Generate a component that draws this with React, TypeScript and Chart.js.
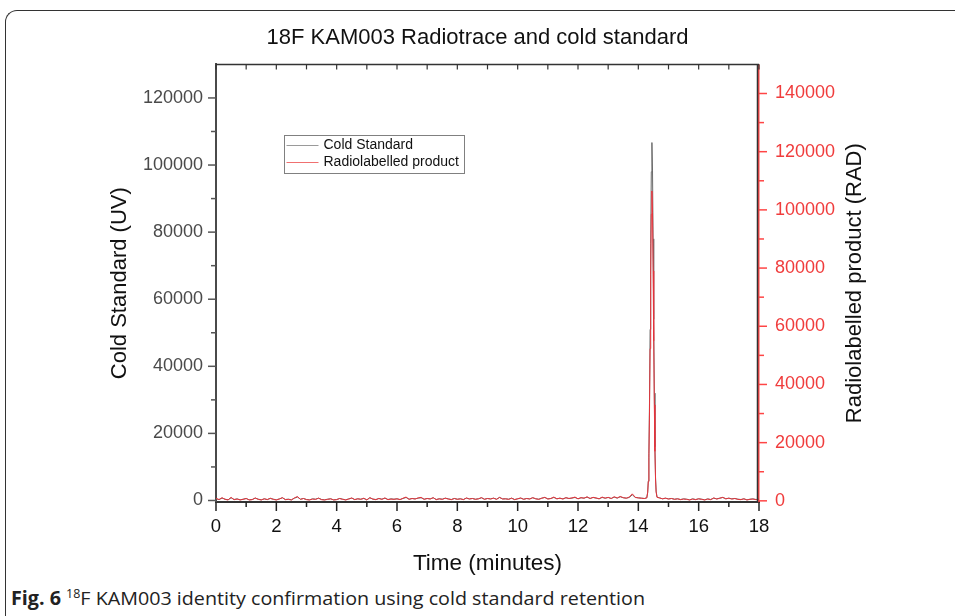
import React, { useEffect, useRef } from "react";
import { Chart, registerables } from "chart.js";

Chart.register(...registerables);

// Retention time (minutes)
const times = [
  0, 0.1, 0.2, 0.3, 0.4, 0.5, 0.6, 0.7, 0.8, 0.9,
  1, 1.1, 1.2, 1.3, 1.4, 1.5, 1.6, 1.7, 1.8, 1.9,
  2, 2.1, 2.2, 2.3, 2.4, 2.5, 2.6, 2.7, 2.8, 2.9,
  3, 3.1, 3.2, 3.3, 3.4, 3.5, 3.6, 3.7, 3.8, 3.9,
  4, 4.1, 4.2, 4.3, 4.4, 4.5, 4.6, 4.7, 4.8, 4.9,
  5, 5.1, 5.2, 5.3, 5.4, 5.5, 5.6, 5.7, 5.8, 5.9,
  6, 6.1, 6.2, 6.3, 6.4, 6.5, 6.6, 6.7, 6.8, 6.9,
  7, 7.1, 7.2, 7.3, 7.4, 7.5, 7.6, 7.7, 7.8, 7.9,
  8, 8.1, 8.2, 8.3, 8.4, 8.5, 8.6, 8.7, 8.8, 8.9,
  9, 9.1, 9.2, 9.3, 9.4, 9.5, 9.6, 9.7, 9.8, 9.9,
  10, 10.1, 10.2, 10.3, 10.4, 10.5, 10.6, 10.7, 10.8, 10.9,
  11, 11.1, 11.2, 11.3, 11.4, 11.5, 11.6, 11.7, 11.8, 11.9,
  12, 12.1, 12.2, 12.3, 12.4, 12.5, 12.6, 12.7, 12.8, 12.9,
  13, 13.1, 13.2, 13.3, 13.4, 13.5, 13.6, 13.7, 13.8, 13.9,
  14, 14.1, 14.2,
  14.28, 14.31, 14.33, 14.35, 14.37, 14.39, 14.41, 14.43, 14.45,
  14.47, 14.49, 14.51, 14.53, 14.55, 14.57, 14.59, 14.62,
  14.7, 14.8, 14.9,
  15, 15.1, 15.2, 15.3, 15.4, 15.5, 15.6, 15.7, 15.8, 15.9,
  16, 16.1, 16.2, 16.3, 16.4, 16.5, 16.6, 16.7, 16.8, 16.9,
  17, 17.1, 17.2, 17.3, 17.4, 17.5, 17.6, 17.7, 17.8, 17.9,
  18,
];

// Cold Standard (UV), left axis
const coldStandard = [
  500, 300, 700, 400, 200, 800, 300, 500, 200, 400,
  600, 200, 300, 700, 400, 200, 500, 300, 600, 400,
  200, 500, 800, 300, 400, 200, 700, 1000, 400, 600,
  300, 200, 500, 400, 700, 300, 200, 400, 500, 200,
  300, 600, 400, 200, 500, 700, 300, 500, 400, 600,
  200, 800, 400, 300, 600, 400, 700, 300, 500, 400,
  500, 300, 600, 900, 400, 600, 500, 700, 800, 400,
  600, 500, 800, 300, 500, 400, 700, 500, 300, 600,
  400, 500, 300, 700, 500, 600, 400, 500, 800, 400,
  600, 500, 700, 400, 900, 500, 500, 400, 700, 300,
  500, 700, 400, 600, 500, 800, 500, 400, 700, 900,
  500, 600, 900, 500, 700, 500, 800, 600, 700, 900,
  500, 800, 700, 1000, 600, 900, 700, 500, 900, 700,
  900, 600, 1000, 700, 1100, 800, 700, 900, 1700, 900,
  800, 700, 600,
  800, 2500, 5800, 14000, 29000, 51000, 76500, 98000, 106700,
  98500, 78000, 54000, 32000, 16000, 7000, 2800, 1000,
  800, 500, 700,
  500, 600, 400, 500, 300, 500, 400, 200, 500, 300,
  500, 400, 200, 500, 300, 700, 500, 700, 900, 500,
  700, 500, 600, 400, 300, 500, 200, 400, 500, 300,
  400,
];

// Radiolabelled product (RAD), right axis
const radiolabelled = [
  900, 400, 1100, 500, 300, 1200, 400, 600, 300, 500,
  800, 300, 400, 1000, 500, 300, 700, 400, 900, 500,
  300, 600, 1100, 400, 500, 300, 1000, 1500, 500, 800,
  400, 300, 600, 500, 900, 400, 300, 500, 700, 300,
  400, 800, 500, 300, 600, 1000, 400, 700, 500, 900,
  300, 1100, 600, 400, 800, 500, 1000, 400, 600, 500,
  700, 400, 900, 1300, 500, 800, 600, 1000, 1200, 500,
  800, 600, 1100, 400, 700, 500, 900, 600, 400, 800,
  500, 700, 400, 1000, 600, 800, 500, 700, 1100, 500,
  800, 600, 900, 500, 1200, 600, 700, 500, 900, 400,
  700, 1000, 500, 800, 600, 1100, 700, 500, 900, 1200,
  600, 800, 1300, 700, 900, 600, 1100, 800, 1000, 1300,
  700, 1100, 900, 1400, 800, 1200, 1000, 700, 1300, 900,
  1200, 800, 1400, 1000, 1500, 1100, 900, 1300, 2400, 1200,
  1000, 900, 800,
  1000, 2800, 6600, 15000, 30200, 52300, 77700, 98500, 106500,
  99000, 79000, 55000, 33000, 17000, 7500, 3000, 1200,
  1000, 700, 900,
  600, 800, 500, 700, 400, 600, 500, 300, 600, 400,
  700, 500, 300, 600, 400, 1000, 600, 900, 1200, 700,
  900, 600, 800, 500, 400, 700, 300, 500, 600, 400,
  500,
];

const chartTitle = "18F KAM003 Radiotrace and cold standard";
const seriesLabels = ["Cold Standard", "Radiolabelled product"];
const xTitle = "Time (minutes)";
const leftTitle = "Cold Standard (UV)";
const rightTitle = "Radiolabelled product (RAD)";

const xMajorTicks = [0, 2, 4, 6, 8, 10, 12, 14, 16, 18];
const xMinorTicks = [1, 3, 5, 7, 9, 11, 13, 15, 17];
const leftMajorTicks = [0, 20000, 40000, 60000, 80000, 100000, 120000];
const leftMinorTicks = [10000, 30000, 50000, 70000, 90000, 110000];
const rightMajorTicks = [0, 20000, 40000, 60000, 80000, 100000, 120000, 140000];
const rightMinorTicks = [10000, 30000, 50000, 70000, 90000, 110000, 130000];

const FONT = '"Liberation Sans", Arial, sans-serif';
const GRAY_LINE = "#6a6a6a";
const RED_LINE = "#e8333b";
const RED_AXIS = "#ff4545";

const decorPlugin = {
  id: "decor",
  afterDraw(chart: any) {
    const { ctx, chartArea: a, scales } = chart;
    const xs = scales.x;
    const yl = scales.yLeft;
    const yr = scales.yRight;
    ctx.save();
    const line = (x1: number, y1: number, x2: number, y2: number, color: string, w: number) => {
      ctx.strokeStyle = color;
      ctx.lineWidth = w;
      ctx.beginPath();
      ctx.moveTo(x1, y1);
      ctx.lineTo(x2, y2);
      ctx.stroke();
    };
    // frame
    line(a.left, a.top, a.right, a.top, "#333", 1.5);
    line(a.right - 1.5, a.top, a.right - 1.5, a.bottom, "#333", 1.5);
    // bottom ticks (outward) and top ticks (inward)
    xMajorTicks.forEach((v) => {
      const p = xs.getPixelForValue(v);
      line(p, a.bottom, p, a.bottom + 9, "#222", 1.5);
      line(p, a.top, p, a.top + 5, "#333", 1.2);
    });
    xMinorTicks.forEach((v) => {
      const p = xs.getPixelForValue(v);
      line(p, a.bottom, p, a.bottom + 5, "#222", 1.5);
      line(p, a.top, p, a.top + 5, "#333", 1.2);
    });
    // left ticks
    leftMajorTicks.forEach((v) => {
      const p = yl.getPixelForValue(v);
      line(a.left, p, a.left - 8, p, "#555", 1.5);
    });
    leftMinorTicks.forEach((v) => {
      const p = yl.getPixelForValue(v);
      line(a.left, p, a.left - 5, p, "#555", 1.5);
    });
    // right ticks
    rightMajorTicks.forEach((v) => {
      const p = yr.getPixelForValue(v);
      line(a.right, p, a.right + 8, p, RED_AXIS, 1.5);
    });
    rightMinorTicks.forEach((v) => {
      const p = yr.getPixelForValue(v);
      line(a.right, p, a.right + 5, p, RED_AXIS, 1.5);
    });
    // right axis title (reads bottom to top)
    ctx.save();
    ctx.translate(855, (a.top + a.bottom) / 2);
    ctx.rotate(-Math.PI / 2);
    ctx.fillStyle = "#111";
    ctx.font = `22px ${FONT}`;
    ctx.textAlign = "center";
    ctx.textBaseline = "middle";
    ctx.fillText(rightTitle, 0, 0);
    ctx.restore();
    // legend box
    const lx = 284.5, ly = 135.5, lw = 180, lh = 38;
    ctx.strokeStyle = "#808080";
    ctx.lineWidth = 1;
    ctx.strokeRect(lx, ly, lw, lh);
    ctx.font = `14px ${FONT}`;
    ctx.textAlign = "left";
    ctx.textBaseline = "middle";
    chart.data.datasets.forEach((ds: any, i: number) => {
      const yy = ly + 10 + i * 17;
      line(lx + 2, yy, lx + 34, yy, ds.legendColor, 1);
      ctx.fillStyle = "#111";
      ctx.fillText(ds.label, lx + 39, yy);
    });
    ctx.restore();
  },
};

export default function App() {
  const ref = useRef<HTMLCanvasElement | null>(null);
  const capRef = useRef<HTMLSpanElement | null>(null);

  useEffect(() => {
    if (!ref.current) return;
    const chart = new Chart(ref.current, {
      type: "line",
      data: {
        datasets: [
          {
            label: seriesLabels[0],
            data: times.map((t, i) => ({ x: t, y: coldStandard[i] })),
            borderColor: GRAY_LINE,
            legendColor: "#9a9a9a",
            borderWidth: 1,
            pointRadius: 0,
            tension: 0,
            yAxisID: "yLeft",
            order: 1,
          } as any,
          {
            label: seriesLabels[1],
            data: times.map((t, i) => ({ x: t, y: radiolabelled[i] })),
            borderColor: RED_LINE,
            legendColor: "#f07070",
            borderWidth: 1,
            pointRadius: 0,
            tension: 0,
            yAxisID: "yRight",
            order: 0,
          } as any,
        ],
      },
      options: {
        animation: false,
        responsive: false,
        devicePixelRatio: 1,
        layout: { padding: 0 },
        plugins: {
          legend: { display: false },
          tooltip: { enabled: false },
          title: {
            display: true,
            text: chartTitle,
            color: "#111",
            font: { family: FONT, size: 22, weight: "normal" },
            padding: { top: 25, bottom: 13 },
          },
        },
        scales: {
          x: {
            type: "linear",
            position: "bottom",
            min: 0,
            max: 18,
            afterBuildTicks: (s: any) => {
              s.ticks = xMajorTicks.map((v) => ({ value: v }));
            },
            afterFit: (s: any) => {
              s.height = 78;
            },
            grid: { display: true, drawOnChartArea: false, drawTicks: false },
            border: { display: true, color: "#333", width: 2 },
            ticks: {
              color: "#111",
              padding: 14,
              maxRotation: 0,
              font: { family: FONT, size: 18.5 },
            },
            title: {
              display: true,
              text: xTitle,
              color: "#111",
              font: { family: FONT, size: 22.5 },
              padding: { top: 0, bottom: 3 },
            },
          },
          yLeft: {
            type: "linear",
            position: "left",
            min: -450,
            max: 130000,
            afterBuildTicks: (s: any) => {
              s.ticks = leftMajorTicks.map((v) => ({ value: v }));
            },
            afterFit: (s: any) => {
              s.width = 216;
            },
            grid: { display: true, drawOnChartArea: false, drawTicks: false },
            border: { display: true, color: "#4a4a4a", width: 2 },
            ticks: {
              color: "#4a4a4a",
              padding: 13,
              font: { family: FONT, size: 18 },
              callback: (v: any) => String(v),
            },
            title: {
              display: true,
              text: leftTitle,
              color: "#111",
              font: { family: FONT, size: 22 },
              padding: { top: 107, bottom: 0 },
            },
          },
          yRight: {
            type: "linear",
            position: "right",
            min: -400,
            max: 150000,
            afterBuildTicks: (s: any) => {
              s.ticks = rightMajorTicks.map((v) => ({ value: v }));
            },
            afterFit: (s: any) => {
              s.width = 196;
            },
            grid: { display: true, drawOnChartArea: false, drawTicks: false },
            border: { display: true, color: RED_AXIS, width: 1.5 },
            ticks: {
              color: "#f03c3c",
              padding: 16,
              font: { family: FONT, size: 18 },
              callback: (v: any) => String(v),
            },
          },
        },
      },
      plugins: [decorPlugin],
    } as any);
    return () => chart.destroy();
  }, []);

  useEffect(() => {
    const el = capRef.current;
    if (!el) return;
    const w = el.getBoundingClientRect().width;
    if (w > 0) el.style.transform = `scaleX(${634 / w})`;
  }, []);

  return (
    <div
      style={{
        position: "fixed",
        left: 0,
        top: 0,
        width: 955,
        height: 616,
        overflow: "hidden",
        background: "#fff",
      }}
    >
      <div
        style={{
          position: "absolute",
          left: 5,
          top: 10,
          width: 1200,
          height: 800,
          borderLeft: "1.5px solid #333",
          borderTop: "1.5px solid #333",
          borderTopLeftRadius: 12,
        }}
      />
      <canvas
        ref={ref}
        width={955}
        height={580}
        style={{ position: "absolute", left: 0, top: 0, width: 955, height: 580 }}
      />
      <span
        ref={capRef}
        style={{
          position: "absolute",
          left: 11,
          top: 586,
          fontFamily: '"Open Sans", sans-serif',
          fontSize: 19,
          lineHeight: "24px",
          color: "#222",
          whiteSpace: "nowrap",
          transformOrigin: "left center",
          display: "inline-block",
        }}
      >
        <b>Fig. 6</b>{" "}
        <span style={{ fontSize: 12, position: "relative", top: -7 }}>18</span>F KAM003 identity
        confirmation using cold standard retention
      </span>
    </div>
  );
}
